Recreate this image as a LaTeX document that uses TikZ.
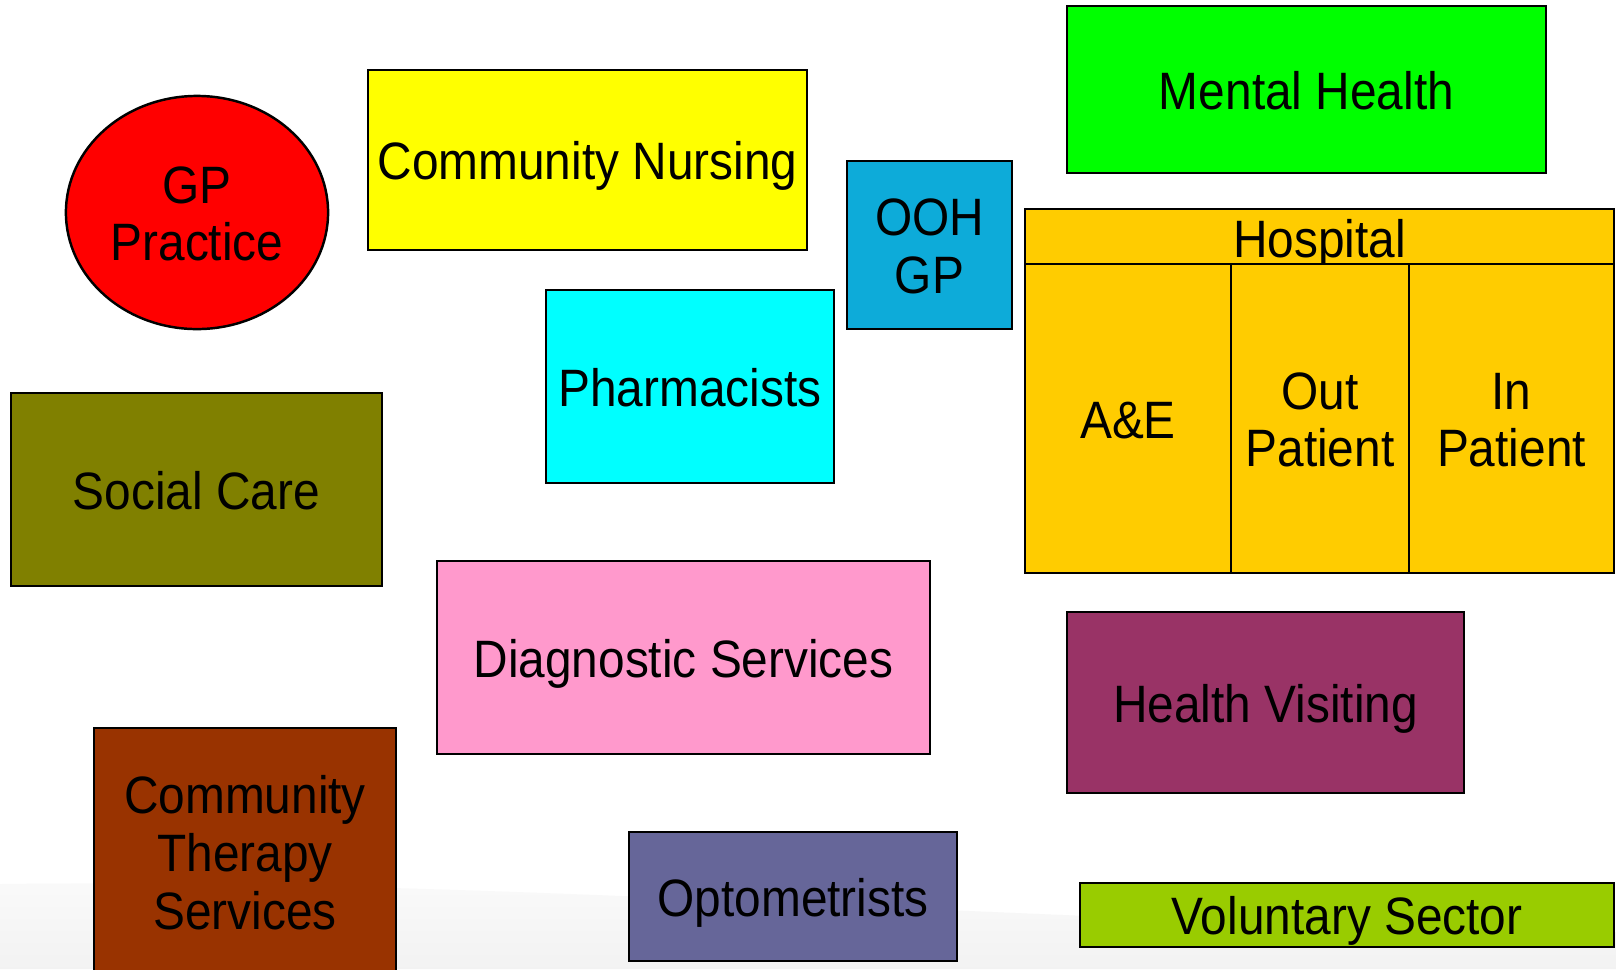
\documentclass[tikz,border=0pt]{standalone}
\usepackage{fontspec}
\setmainfont{Liberation Sans}
\usepackage{graphicx}
\usetikzlibrary{shapes.geometric}
\definecolor{gpred}{HTML}{FF0000}
\definecolor{cnyellow}{HTML}{FFFF00}
\definecolor{oohblue}{HTML}{0DABD9}
\definecolor{mhgreen}{HTML}{00FF00}
\definecolor{hospgold}{HTML}{FFCC00}
\definecolor{pharmcyan}{HTML}{00FFFF}
\definecolor{socolive}{HTML}{808000}
\definecolor{diagpink}{HTML}{FF99CC}
\definecolor{hvplum}{HTML}{993366}
\definecolor{ctsbrown}{HTML}{993300}
\definecolor{optslate}{HTML}{666699}
\definecolor{vollime}{HTML}{99CC00}
\newcommand\tx[1]{\raisebox{-0.08cm}[\height][\depth]{\scalebox{1}[1.1]{\begin{tabular}{@{}c@{}}#1\end{tabular}}}}
\tikzset{
  box/.style={draw=black, line width=0.7pt, inner sep=0pt, rectangle,
    font=\fontsize{13.6}{14.9}\selectfont, align=center},
}
\begin{document}
\begin{tikzpicture}[x=0.01cm, y=-0.01cm]
\useasboundingbox (0,0) rectangle (1616,969);
\fill[white] (0,0) rectangle (1616,969);
% light background swoosh
\shade[top color=gray!4, bottom color=gray!10]
  (0,884) .. controls (500,878) and (1000,922) .. (1616,932) -- (1616,969) -- (0,969) -- cycle;

\node[box, ellipse, fill=gpred, minimum width=2.62cm, minimum height=2.33cm] (gp) at (197,212.5) {\tx{GP\\Practice}};
\node[box, fill=cnyellow, minimum width=4.39cm, minimum height=1.80cm] (cn) at (587.5,160) {\tx{Community Nursing}};
\node[box, fill=oohblue, minimum width=1.65cm, minimum height=1.68cm] (ooh) at (929.5,245) {\tx{OOH\\GP}};
\node[box, fill=mhgreen, minimum width=4.79cm, minimum height=1.67cm] (mh) at (1306.5,89.5) {\tx{Mental Health}};

\node[box, fill=hospgold, minimum width=5.89cm, minimum height=0.52cm] (hosp) at (1319.5,238) {\tx{Hospital}};
\node[box, fill=hospgold, minimum width=2.06cm, minimum height=3.09cm] (ae) at (1128,418.5) {\tx{A\&E}};
\node[box, fill=hospgold, minimum width=1.78cm, minimum height=3.09cm] (op) at (1320,418.5) {\tx{Out\\Patient}};
\node[box, fill=hospgold, minimum width=2.05cm, minimum height=3.09cm] (ip) at (1511.5,418.5) {\tx{In\\Patient}};

\node[box, fill=pharmcyan, minimum width=2.88cm, minimum height=1.93cm] (ph) at (690,386.5) {\tx{Pharmacists}};
\node[box, fill=socolive, minimum width=3.71cm, minimum height=1.93cm] (sc) at (196.5,489.5) {\tx{Social Care}};
\node[box, fill=diagpink, minimum width=4.93cm, minimum height=1.93cm] (ds) at (683.5,657.5) {\tx{Diagnostic Services}};
\node[box, fill=hvplum, minimum width=3.97cm, minimum height=1.81cm] (hv) at (1265.5,702.5) {\tx{Health Visiting}};
\node[box, fill=ctsbrown, minimum width=3.02cm, minimum height=2.48cm] (cts) at (245,852) {\tx{Community\\Therapy\\Services}};
\node[box, fill=optslate, minimum width=3.28cm, minimum height=1.29cm] (opt) at (793,896.5) {\tx{Optometrists}};
\node[box, fill=vollime, minimum width=5.34cm, minimum height=0.64cm] (vol) at (1347,915) {\tx{Voluntary Sector}};
\end{tikzpicture}
\end{document}
